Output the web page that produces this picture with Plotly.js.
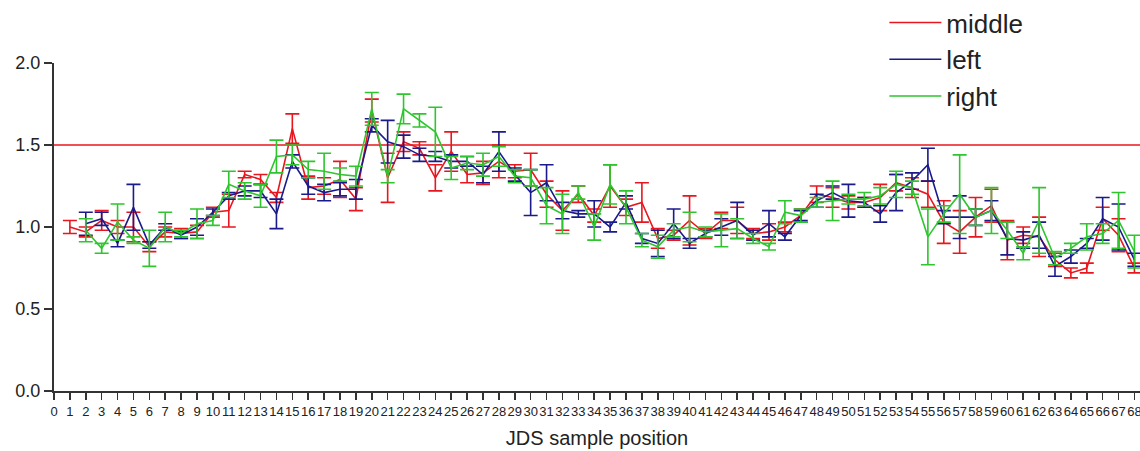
<!DOCTYPE html>
<html>
<head>
<meta charset="utf-8">
<script src="https://cdn.plot.ly/plotly-3.0.1.min.js"></script>
<style>html,body{margin:0;padding:0;background:#fff;}#chart{width:1140px;height:451px;}</style>
</head>
<body>
<div id="chart"></div>
<script>
// sample positions
const positions = [];
for (let i = 1; i <= 68; i++) positions.push(i);
const xTickVals = [];
for (let i = 0; i <= 68; i++) xTickVals.push(i);

const THRESHOLD = 1.5;

// middle (red)
const middleMean = [1.00,0.97,1.04,1.00,1.00,0.88,0.97,0.96,0.97,1.09,1.10,1.32,1.29,1.18,1.60,1.24,1.25,1.29,1.17,1.71,
  1.30,1.52,1.48,1.30,1.46,1.32,1.33,1.40,1.34,1.35,1.20,1.10,1.20,1.07,1.25,1.12,1.15,0.93,0.95,1.04,
  0.96,1.04,1.04,0.96,0.97,1.00,1.07,1.20,1.18,1.15,1.15,1.18,1.27,1.24,1.20,1.03,0.97,1.06,1.13,0.92,
  0.95,0.94,0.80,0.72,0.75,1.05,0.95,0.75];
const middleErr = [0.04,0.03,0.06,0.04,0.09,0.03,0.03,0.03,0.04,0.03,0.10,0.02,0.03,0.03,0.09,0.07,0.05,0.11,0.07,0.07,
  0.15,0.06,0.04,0.08,0.12,0.05,0.07,0.10,0.04,0.10,0.08,0.12,0.05,0.04,0.13,0.05,0.12,0.06,0.03,0.15,
  0.03,0.05,0.08,0.03,0.05,0.03,0.04,0.05,0.06,0.04,0.03,0.08,0.05,0.06,0.08,0.13,0.13,0.12,0.10,0.12,
  0.05,0.12,0.04,0.03,0.03,0.07,0.10,0.03];

// left (blue)
const leftMean = [null,1.02,1.05,0.90,1.12,0.89,1.00,0.95,1.00,1.09,1.19,1.22,1.22,1.08,1.40,1.25,1.21,1.23,1.23,1.62,
  1.52,1.49,1.44,1.43,1.40,1.40,1.32,1.46,1.32,1.21,1.27,1.10,1.08,1.08,1.00,1.15,0.93,0.90,1.02,0.90,
  0.96,1.00,1.04,0.95,1.02,0.94,1.07,1.16,1.21,1.16,1.15,1.08,1.21,1.28,1.38,1.06,1.06,1.06,1.10,0.93,
  0.92,0.95,0.76,0.82,0.90,1.05,1.00,0.80];
const leftErr = [null,0.07,0.04,0.02,0.14,0.02,0.02,0.02,0.05,0.02,0.02,0.03,0.04,0.09,0.04,0.05,0.05,0.04,0.06,0.04,
  0.13,0.07,0.04,0.03,0.04,0.03,0.05,0.12,0.04,0.14,0.11,0.05,0.02,0.08,0.03,0.04,0.03,0.08,0.09,0.03,
  0.02,0.05,0.11,0.03,0.08,0.02,0.03,0.04,0.04,0.10,0.03,0.05,0.11,0.05,0.10,0.04,0.13,0.05,0.06,0.10,
  0.05,0.08,0.06,0.04,0.03,0.13,0.14,0.04];

// right (green)
const rightMean = [null,0.98,0.87,1.03,0.92,0.87,1.00,0.96,1.02,1.04,1.26,1.22,1.19,1.43,1.44,1.35,1.34,1.32,1.31,1.72,
  1.31,1.72,1.65,1.58,1.36,1.39,1.38,1.43,1.31,1.30,1.13,1.08,1.21,1.00,1.26,1.12,0.92,0.88,0.98,1.00,
  0.97,0.98,0.99,0.93,0.88,1.09,1.07,1.15,1.16,1.17,1.17,1.19,1.26,1.24,0.94,1.08,1.20,1.06,1.10,0.98,
  0.84,1.04,0.81,0.87,0.94,0.96,1.04,0.85];
const rightErr = [null,0.07,0.03,0.11,0.02,0.11,0.09,0.02,0.09,0.03,0.08,0.05,0.07,0.10,0.06,0.05,0.11,0.04,0.06,0.10,
  0.04,0.09,0.04,0.15,0.07,0.04,0.07,0.06,0.04,0.05,0.11,0.12,0.04,0.08,0.12,0.10,0.04,0.07,0.04,0.09,
  0.03,0.10,0.06,0.03,0.02,0.07,0.04,0.03,0.12,0.03,0.04,0.05,0.08,0.04,0.17,0.05,0.24,0.05,0.14,0.05,
  0.04,0.20,0.04,0.03,0.08,0.06,0.17,0.10];

const seriesNames = ['middle', 'left', 'right'];
const seriesColors = ['#e8161e', '#1a1a8a', '#2ec52e'];
const seriesMeans = [middleMean, leftMean, rightMean];
const seriesErrs = [middleErr, leftErr, rightErr];

const traces = [];
seriesNames.forEach((name, k) => {
  traces.push({
    type: 'scatter', mode: 'lines', x: positions, y: seriesMeans[k], name: name,
    showlegend: false, connectgaps: false,
    line: {color: seriesColors[k], width: 1.6},
    error_y: {type: 'data', array: seriesErrs[k], visible: true, color: seriesColors[k], thickness: 1.6, width: 7},
    hoverinfo: 'x+y'
  });
});
seriesNames.forEach((name, k) => {
  traces.push({
    type: 'scatter', mode: 'lines', x: [null], y: [null], name: name,
    legendgroup: name, showlegend: true,
    line: {color: seriesColors[k], width: 1.6}
  });
});

const layout = {
  width: 1140, height: 451,
  margin: {l: 54, r: 0, t: 63, b: 60, pad: 0, autoexpand: false},
  paper_bgcolor: '#fff', plot_bgcolor: '#fff',
  font: {family: 'Liberation Sans, Arial, sans-serif', color: '#222'},
  showlegend: true,
  legend: {x: 0.7646, y: 1.195, xanchor: 'left', yanchor: 'top', bgcolor: 'rgba(0,0,0,0)',
    font: {size: 26, color: '#222'}, tracegroupgap: 0, traceorder: 'grouped', itemwidth: 52},
  xaxis: {
    range: [0, 68.35], tickmode: 'array', tickvals: xTickVals, ticktext: xTickVals.map(String),
    showline: true, linecolor: '#333', linewidth: 2, ticks: 'outside', ticklen: 7, tickwidth: 1.5, tickcolor: '#333',
    showgrid: false, zeroline: false, tickangle: 0, ticklabeloverflow: 'allow', automargin: false,
    tickfont: {family: 'Liberation Sans Narrow, Arial Narrow, sans-serif', size: 13, color: '#222'},
    title: {text: 'JDS sample position', font: {size: 20, color: '#222'}, standoff: 13}
  },
  yaxis: {
    range: [0, 2.0], tickvals: [0, 0.5, 1.0, 1.5, 2.0], tickformat: '.1f', automargin: false,
    showline: true, linecolor: '#333', linewidth: 2, ticks: 'outside', ticklen: 8, tickwidth: 1.5, tickcolor: '#333',
    showgrid: false, zeroline: false,
    tickfont: {size: 18, color: '#222'}
  },
  shapes: [{type: 'line', xref: 'paper', x0: 0, x1: 1, yref: 'y', y0: THRESHOLD, y1: THRESHOLD,
    line: {color: '#e8161e', width: 1.6}, layer: 'below'}]
};

Plotly.newPlot('chart', traces, layout, {displayModeBar: false, staticPlot: true});
</script>
</body>
</html>
